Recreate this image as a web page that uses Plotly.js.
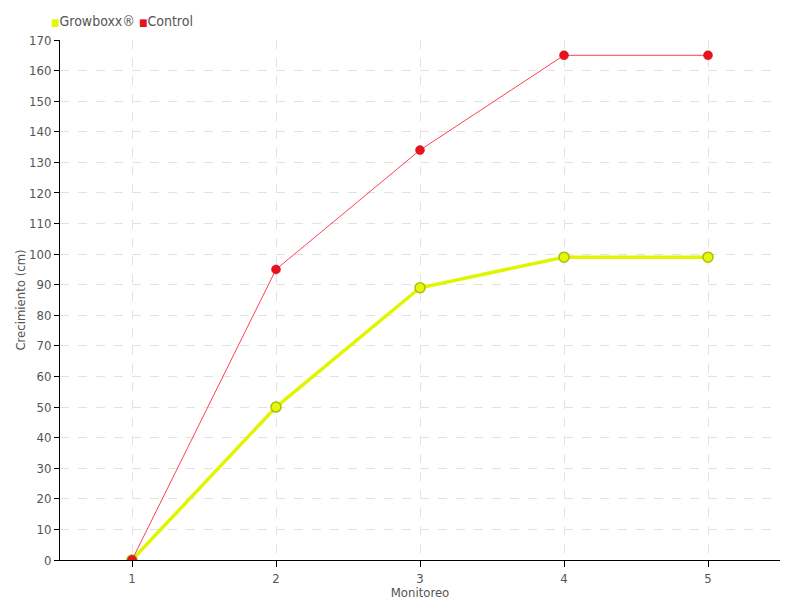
<!DOCTYPE html>
<html><head><meta charset="utf-8">
<script src="https://cdn.plot.ly/plotly-3.0.1.min.js"></script>
<style>body{margin:0;background:#fff}#c{width:800px;height:600px}</style>
</head><body><div id="c"></div>
<script>
const categories = [1, 2, 3, 4, 5];
const growboxx = [0, 50, 89, 99, 99];
const control = [0, 95, 134, 165, 165];
const seriesNames = ["Growboxx®", "Control"];
const seriesColors = ['#e5f70f', '#e8121f'];
const yTicks = [0,10,20,30,40,50,60,70,80,90,100,110,120,130,140,150,160,170];

const font = "'DejaVu Sans Condensed', 'Liberation Sans Narrow', sans-serif";
const traces = [
  {x: categories, y: growboxx, mode: 'lines+markers', name: seriesNames[0],
   line: {color: '#e2f500', width: 3.5},
   marker: {size: 10, color: seriesColors[0], line: {color: '#aabf00', width: 1.5}}},
  {x: categories, y: control, mode: 'lines+markers', name: seriesNames[1],
   line: {color: '#ff4050', width: 1},
   marker: {size: 9, color: seriesColors[1], line: {color: '#c8101a', width: 0.5}}}
];
const legendText = seriesNames.map((n, i) =>
  `<span style="color:${seriesColors[i]};font-size:10px">■</span>${n}`).join(' ');
const layout = {
  width: 800, height: 600,
  margin: {l: 60, r: 20, t: 40, b: 40},
  paper_bgcolor: '#fff', plot_bgcolor: '#fff',
  font: {family: font, color: '#555', size: 13},
  showlegend: false,
  annotations: [{text: legendText, xref: 'paper', yref: 'paper', x: -0.015, y: 1.0, yshift: 19,
                 xanchor: 'left', yanchor: 'middle', showarrow: false, font: {size: 14, color: '#555'}}],
  xaxis: {range: [0.5, 5.5], tickvals: categories, ticktext: categories.map(String),
          showline: true, linecolor: '#000', linewidth: 1, ticks: 'outside', ticklen: 6, tickcolor: '#000',
          showgrid: true, gridcolor: '#e2e2e2', griddash: 'dash', zeroline: false,
          title: {text: 'Monitoreo', font: {size: 13, color: '#555'}, standoff: 0},
          tickfont: {size: 13, color: '#555'}, fixedrange: true},
  yaxis: {range: [0, 170], tickvals: yTicks, ticktext: yTicks.map(String),
          showline: true, linecolor: '#000', linewidth: 1, ticks: 'outside', ticklen: 5, tickcolor: '#000',
          showgrid: true, gridcolor: '#e2e2e2', griddash: 'dash', zeroline: false,
          title: {text: 'Crecimiento (cm)', font: {size: 13, color: '#555'}, standoff: 0},
          tickfont: {size: 13, color: '#555'}, fixedrange: true}
};
Plotly.newPlot('c', traces, layout, {displayModeBar: false, staticPlot: true});
</script></body></html>
